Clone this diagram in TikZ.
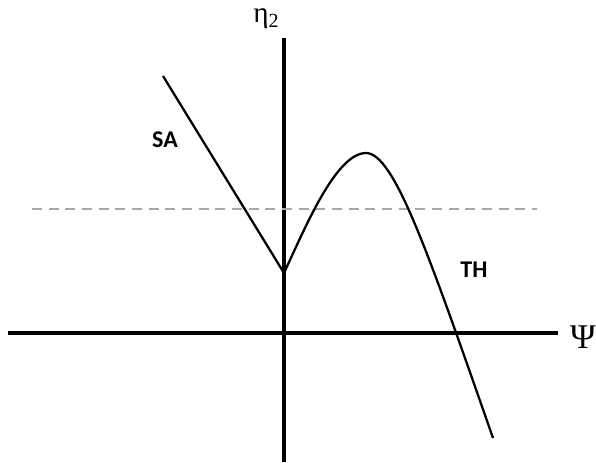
\documentclass[tikz,border=0pt]{standalone}
\usepackage{fontspec}
\setmainfont{Carlito}
\newfontfamily\greekfont{Liberation Serif}
\usepackage{xcolor}
\definecolor{ink}{HTML}{000000}
\definecolor{guide}{HTML}{A8A8A8}
\tikzset{fig/.style={x=0.75pt,y=-0.75pt,line join=round,line cap=butt},
  axisline/.style={ink,line width=2.3pt},
  branch/.style={ink,line width=1.7pt},
  level/.style={guide,line width=1.2pt,dash pattern=on 7.5pt off 5pt},
  curvelbl/.style={font=\bfseries\fontsize{18}{20}\selectfont,inner sep=0pt},
  axislbl/.style={font=\greekfont\fontsize{26}{28}\selectfont,inner sep=0pt}}

\begin{document}
\begin{tikzpicture}[fig]
  \useasboundingbox (0,0) rectangle (596,462);
  % axes
  \coordinate (xl) at (8,333);\coordinate (xr) at (558,333);
  \coordinate (yb) at (284,462);\coordinate (yt) at (284,38);
  \draw[axisline](xl)--(xr);\draw[axisline](yb)--(yt);
  \node[axislbl](psi) at (583,337){Ψ};
  \node[font=\greekfont\fontsize{22}{24}\selectfont,inner sep=0pt](eta) at (266,19){η\raisebox{-0.35ex}{\fontsize{15}{16}\selectfont 2}};
  % dashed level
  \coordinate (dl) at (32,209);\coordinate (dr) at (537,209);
  \draw[level](dl)--(dr);
  % SA and TH branches
  \coordinate (cusp) at (284,273);\coordinate (satop) at (163,76);
  \coordinate (peak) at (366,153);\coordinate (thend) at (493,438);
  \draw[branch](satop)--(cusp);
  \draw[branch](cusp)..controls(305,228)and(336,153)..(peak)
    ..controls(394,153)and(428,252)..(thend);
  \node[curvelbl](sa) at (165,140){SA};
  \node[curvelbl](th) at (474,270){TH};
\end{tikzpicture}
\end{document}
